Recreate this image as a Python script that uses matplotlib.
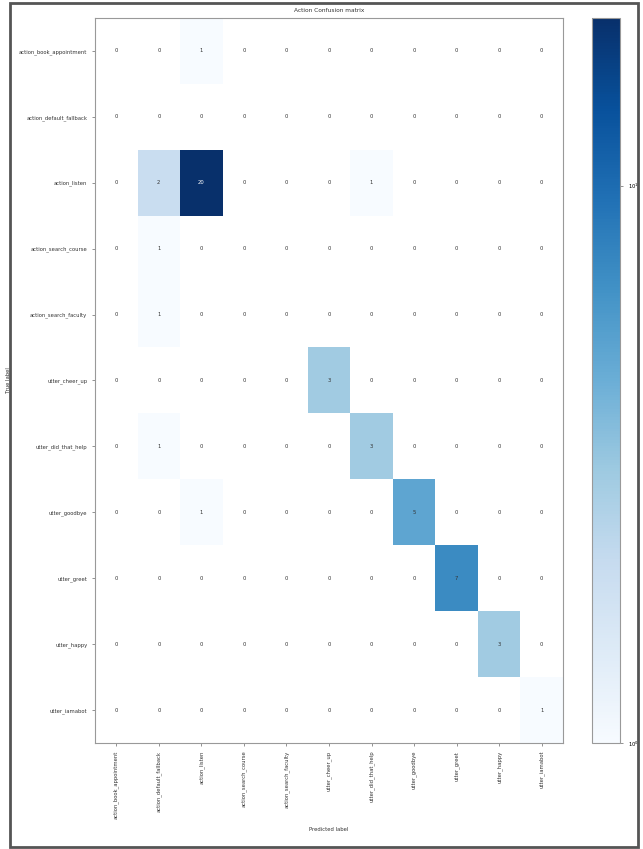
import numpy as np
import matplotlib
matplotlib.use("Agg")
import matplotlib.pyplot as plt
from matplotlib.colors import LogNorm
from matplotlib.patches import Rectangle
from matplotlib.ticker import NullLocator

labels = [
    "action_book_appointment",
    "action_default_fallback",
    "action_listen",
    "action_search_course",
    "action_search_faculty",
    "utter_cheer_up",
    "utter_did_that_help",
    "utter_goodbye",
    "utter_greet",
    "utter_happy",
    "utter_iamabot",
]

# rows = true label, cols = predicted label
cm = np.array([
    [0, 0, 1, 0, 0, 0, 0, 0, 0, 0, 0],
    [0, 0, 0, 0, 0, 0, 0, 0, 0, 0, 0],
    [0, 2, 20, 0, 0, 0, 1, 0, 0, 0, 0],
    [0, 1, 0, 0, 0, 0, 0, 0, 0, 0, 0],
    [0, 1, 0, 0, 0, 0, 0, 0, 0, 0, 0],
    [0, 0, 0, 0, 0, 3, 0, 0, 0, 0, 0],
    [0, 1, 0, 0, 0, 0, 3, 0, 0, 0, 0],
    [0, 0, 1, 0, 0, 0, 0, 5, 0, 0, 0],
    [0, 0, 0, 0, 0, 0, 0, 0, 7, 0, 0],
    [0, 0, 0, 0, 0, 0, 0, 0, 0, 3, 0],
    [0, 0, 0, 0, 0, 0, 0, 0, 0, 0, 1],
])

W, H = 643, 849
fig = plt.figure(figsize=(W / 100, H / 100), dpi=100)

ax = fig.add_axes([95 / W, 1 - 743 / H, (563 - 95) / W, (743 - 18) / H])
cax = fig.add_axes([592 / W, 1 - 743 / H, 28 / W, (743 - 18) / H])

masked = np.ma.masked_less_equal(cm, 0)
im = ax.imshow(masked, cmap="Blues", norm=LogNorm(vmin=1, vmax=cm.max()),
               aspect="auto", interpolation="nearest")

fs = 3.8
thresh = cm.max() / 2.0
for i in range(cm.shape[0]):
    for j in range(cm.shape[1]):
        ax.text(j, i, str(cm[i, j]), ha="center", va="center", fontsize=fs,
                color="white" if cm[i, j] > thresh else "#333333")

ax.set_xticks(range(len(labels)))
ax.set_yticks(range(len(labels)))
ax.set_xticklabels(labels, rotation=90, fontsize=fs, color="#333333")
ax.set_yticklabels(labels, fontsize=fs, color="#333333")
ax.tick_params(length=2, width=0.5, color="#666666")
ax.set_title("Action Confusion matrix", fontsize=4.2, color="#333333", pad=4)
ax.set_xlabel("Predicted label", fontsize=fs, color="#333333", labelpad=6)
ax.set_ylabel("True label", fontsize=fs, color="#333333", labelpad=6)
for sp in ax.spines.values():
    sp.set_color("#999999")
    sp.set_linewidth(0.8)

cb = fig.colorbar(im, cax=cax)
cb.ax.yaxis.set_minor_locator(NullLocator())
cb.ax.tick_params(labelsize=fs, length=2, width=0.5, color="#666666")
cb.outline.set_edgecolor("#999999")
cb.outline.set_linewidth(0.8)

# screenshot frame
fig.patches.append(Rectangle((10 / W, 1 - 847 / H), 628 / W, 844 / H,
                             transform=fig.transFigure, fill=False,
                             edgecolor="#555555", linewidth=2))

fig.savefig("out.png", dpi=100)
